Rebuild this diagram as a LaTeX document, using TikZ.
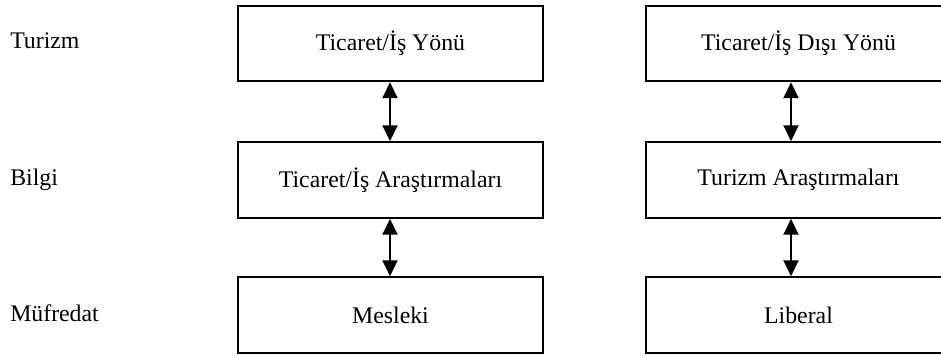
\documentclass[tikz,border=0pt]{standalone}
\usepackage{fontspec}
\setmainfont{Liberation Serif}
\usetikzlibrary{arrows.meta}

\begin{document}
\begin{tikzpicture}[x=0.75pt, y=-0.75pt,
  every node/.style={font=\fontsize{17.85}{21}\selectfont, inner sep=0pt},
  levelbox/.style={draw, line width=1.5pt, minimum width=228.75pt, minimum height=56.6pt},
  rowlabel/.style={anchor=base west},
  link/.style={line width=1.5pt, {Triangle[width=11.25pt,length=12pt]}-{Triangle[width=11.25pt,length=12pt]}}]

  \useasboundingbox (0,0) rectangle (941,356);

  % row labels
  \node[rowlabel] (turizm) at (10,49) {Turizm};
  \node[rowlabel] (bilgi) at (10,185) {Bilgi};
  \node[rowlabel] (mufredat) at (10,321) {Müfredat};

  % business-oriented column
  \node[levelbox] (l1) at (390.5,43.5) {Ticaret/İş Yönü};
  \node[levelbox] (l2) at (390.5,180) {Ticaret/İş Araştırmaları};
  \node[levelbox] (l3) at (390.5,315) {Mesleki};

  % non-business column
  \node[levelbox] (r1) at (798.5,43.5) {Ticaret/İş Dışı Yönü};
  \node[levelbox] (r2) at (798.5,180) {Turizm Araştırmaları};
  \node[levelbox] (r3) at (798.5,315) {Liberal};

  % connectors
  \coordinate (lax) at (390,0);
  \coordinate (rax) at (791,0);
  \draw[link] (l1.south -| lax) -- (l2.north -| lax);
  \draw[link] (l2.south -| lax) -- (l3.north -| lax);
  \draw[link] (r1.south -| rax) -- (r2.north -| rax);
  \draw[link] (r2.south -| rax) -- (r3.north -| rax);
\end{tikzpicture}
\end{document}
